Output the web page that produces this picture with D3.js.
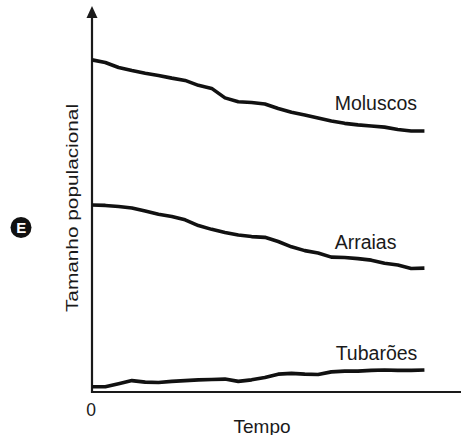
<!DOCTYPE html>
<html>
<head>
<meta charset="utf-8">
<script src="https://cdn.jsdelivr.net/npm/d3@7"></script>
<style>
  html, body { margin: 0; padding: 0; background: #fff; }
  svg { display: block; }
  text { font-family: "Liberation Sans", Arial, Helvetica, sans-serif; fill: #1a1a1a; }
</style>
</head>
<body>
<svg id="chart" width="461" height="435"></svg>
<script>
// ---- data ----
const times = [0,4,8,12,16,20,24,28,32,36,40,44,48,52,56,60,64,68,72,76,80,84,88,92,96,100];
const moluscos = [87.4,86.7,85.4,84.6,83.9,83.3,82.6,82.0,80.7,79.9,77.4,76.4,76.2,75.8,74.6,73.6,72.9,72.1,71.3,70.7,70.3,70.0,69.7,69.1,68.7,68.7];
const arraias  = [49.2,49.1,48.8,48.4,47.6,46.8,46.2,45.3,43.8,42.8,42.0,41.3,40.9,40.7,39.6,38.2,37.2,36.6,35.5,35.4,35.1,34.7,33.9,33.4,32.5,32.6];
const tubaroes = [1.4,1.4,2.2,3.0,2.6,2.5,2.8,3.0,3.2,3.3,3.4,2.8,3.2,3.8,4.7,4.9,4.7,4.6,5.3,5.5,5.5,5.7,5.8,5.7,5.7,5.8];
const seriesNames = ["Moluscos", "Arraias", "Tubarões"];
const labelTimes = [73, 73, 73.3];
const labelValues = [74.2, 37.6, 8.4];
const xTickLabels = ["0"];
const xTitle = "Tempo";
const yTitle = "Tamanho populacional";
const marker = "E";

// ---- layout ----
const svg = d3.select("#chart");
const x = d3.scaleLinear().domain([0, 111]).range([92, 461]);
const y = d3.scaleLinear().domain([0, 100]).range([392, 12]);

// axes
svg.append("line")
  .attr("x1", x(0)).attr("x2", x(111))
  .attr("y1", y(0)).attr("y2", y(0))
  .attr("stroke", "#1a1a1a").attr("stroke-width", 2.2);
svg.append("line")
  .attr("x1", x(0)).attr("x2", x(0))
  .attr("y1", y(0) + 1.1).attr("y2", 14)
  .attr("stroke", "#1a1a1a").attr("stroke-width", 2.2);
// arrow head
svg.append("path")
  .attr("d", `M${x(0)},6 L${x(0) - 5.5},18 L${x(0) + 5.5},18 Z`)
  .attr("fill", "#1a1a1a");

// lines
const allSeries = [moluscos, arraias, tubaroes];
const line = d3.line()
  .x((d, i) => x(times[i]))
  .y(d => y(d))
  .curve(d3.curveLinear);

svg.selectAll("path.series")
  .data(allSeries)
  .join("path")
  .attr("class", "series")
  .attr("d", line)
  .attr("fill", "none")
  .attr("stroke", "#111")
  .attr("stroke-width", 3.6)
  .attr("stroke-linejoin", "round")
  .attr("stroke-linecap", "butt");

// series labels
svg.selectAll("text.slabel")
  .data(seriesNames)
  .join("text")
  .attr("class", "slabel")
  .attr("x", (d, i) => x(labelTimes[i]))
  .attr("y", (d, i) => y(labelValues[i]))
  .attr("font-size", 19.5)
  .text(d => d);

// x tick label
svg.append("text")
  .attr("x", x(0) - 1)
  .attr("y", 416)
  .attr("text-anchor", "middle")
  .attr("font-size", 17.5)
  .text(xTickLabels[0]);

// x title
svg.append("text")
  .attr("x", 262)
  .attr("y", 432.5)
  .attr("text-anchor", "middle")
  .attr("font-size", 19)
  .text(xTitle);

// y title
svg.append("text")
  .attr("transform", "translate(77.5,208) rotate(-90) scale(1,0.82)")
  .attr("text-anchor", "middle")
  .attr("font-size", 20.8)
  .text(yTitle);

// marker
svg.append("circle")
  .attr("cx", 21).attr("cy", 227.5).attr("r", 10.5)
  .attr("fill", "#111");
svg.append("text")
  .attr("x", 21.3).attr("y", 233)
  .attr("text-anchor", "middle")
  .attr("font-size", 15)
  .attr("font-weight", "bold")
  .style("fill", "#fff")
  .text(marker);
</script>
</body>
</html>
